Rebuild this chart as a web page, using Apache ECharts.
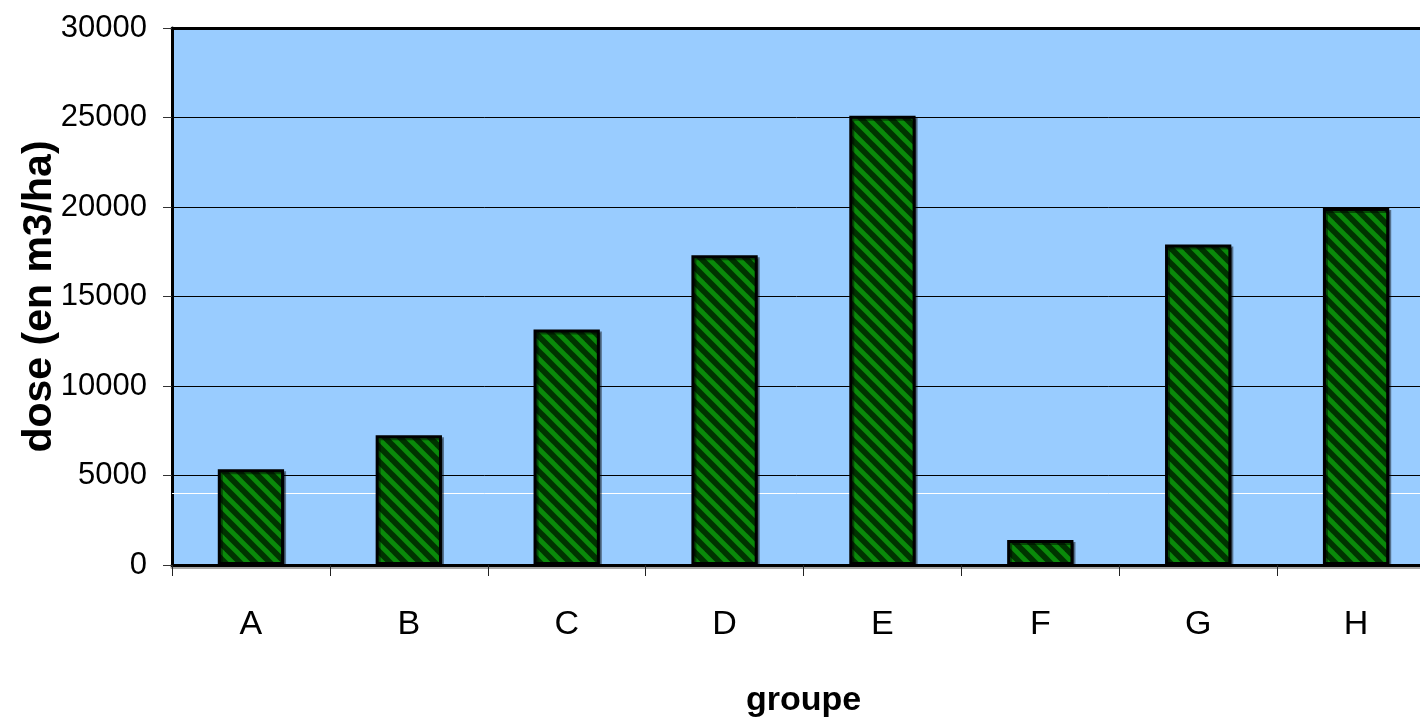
<!DOCTYPE html>
<html>
<head>
<meta charset="utf-8">
<script src="https://cdn.jsdelivr.net/npm/echarts@6/dist/echarts.min.js"></script>
<style>
  html, body { margin: 0; padding: 0; background: #ffffff; }
  #chart { width: 1420px; height: 726px; }
</style>
</head>
<body>
<div id="chart"></div>
<script>
// Groups and irrigation dose per group (m3/ha)
const categories = ['A', 'B', 'C', 'D', 'E', 'F', 'G', 'H'];
const doses = [5350, 7250, 13150, 17300, 25100, 1400, 17900, 19950];
// Reference level drawn as a white line across the plot
const referenceLevel = [4000];
// Value axis ticks
const yTicks = [0, 5000, 10000, 15000, 20000, 25000, 30000];

const sans = "'Liberation Sans Narrow', 'Arial Narrow', 'Liberation Sans', Arial, sans-serif";

// Diagonal hatch: dark green ground with lighter green stripes running down-right
function hatchTile() {
  const size = 15;
  const c = document.createElement('canvas');
  c.width = size; c.height = size;
  const g = c.getContext('2d');
  g.fillStyle = '#003300';
  g.fillRect(0, 0, size, size);
  g.strokeStyle = '#0a8a0a';
  g.lineWidth = 4.8;
  for (let k = -size; k <= size; k += size) {
    g.beginPath();
    g.moveTo(k - 2, -2);
    g.lineTo(k + size + 2, size + 2);
    g.stroke();
  }
  return c;
}

const chart = echarts.init(document.getElementById('chart'), null, { renderer: 'canvas' });

chart.setOption({
  animation: false,
  grid: {
    left: 172, top: 28, right: -15, bottom: 161,
    outerBoundsMode: 'none',
    containLabel: false,
    show: true, backgroundColor: '#99ccff', borderWidth: 0
  },
  xAxis: [{
    type: 'category',
    data: categories,
    name: 'groupe',
    nameLocation: 'middle',
    nameGap: 119,
    nameMoveOverlap: false,
    nameTextStyle: { fontFamily: sans, fontWeight: 'bold', fontSize: 34, color: '#000' },
    axisLine: { show: true, lineStyle: { color: '#000', width: 3, shadowColor: 'rgba(0,0,0,0.35)', shadowOffsetY: 2 } },
    axisTick: { show: true, alignWithLabel: false, length: 11, lineStyle: { color: '#222', width: 1 } },
    axisLabel: { margin: 43, fontFamily: sans, fontSize: 34, color: '#000' },
    splitLine: { show: false }
  }, {
    type: 'category',
    data: categories,
    position: 'top',
    axisLine: { show: true, lineStyle: { color: '#000', width: 3 } },
    axisTick: { show: false },
    axisLabel: { show: false },
    splitLine: { show: false }
  }],
  yAxis: {
    type: 'value',
    min: yTicks[0],
    max: yTicks[yTicks.length - 1],
    interval: yTicks[1] - yTicks[0],
    name: 'dose (en m3/ha)',
    nameLocation: 'middle',
    nameGap: 112,
    nameMoveOverlap: false,
    nameRotate: 90,
    nameTextStyle: { fontFamily: "'Liberation Sans', Arial, sans-serif", fontWeight: 'bold', fontSize: 41, color: '#000' },
    axisLine: { show: true, lineStyle: { color: '#000', width: 3 } },
    axisTick: { show: true, length: 9, lineStyle: { color: '#333', width: 1 } },
    axisLabel: { margin: 25, fontFamily: sans, fontSize: 31, color: '#000', formatter: v => String(v) },
    splitLine: { show: true, lineStyle: { color: '#000', width: 1 } }
  },
  series: [{
    type: 'bar',
    data: doses,
    barWidth: '42%',
    z: 10,
    itemStyle: {
      color: { image: hatchTile(), repeat: 'repeat' },
      borderColor: '#000',
      borderWidth: 3,
      shadowColor: 'rgba(0,0,0,0.45)',
      shadowOffsetX: 2,
      shadowOffsetY: 2,
      shadowBlur: 0
    },
    markLine: {
      silent: true,
      symbol: 'none',
      label: { show: false },
      lineStyle: { color: '#ffffff', width: 1, type: 'solid' },
      data: referenceLevel.map(v => ({ yAxis: v }))
    }
  }]
});
</script>
</body>
</html>
